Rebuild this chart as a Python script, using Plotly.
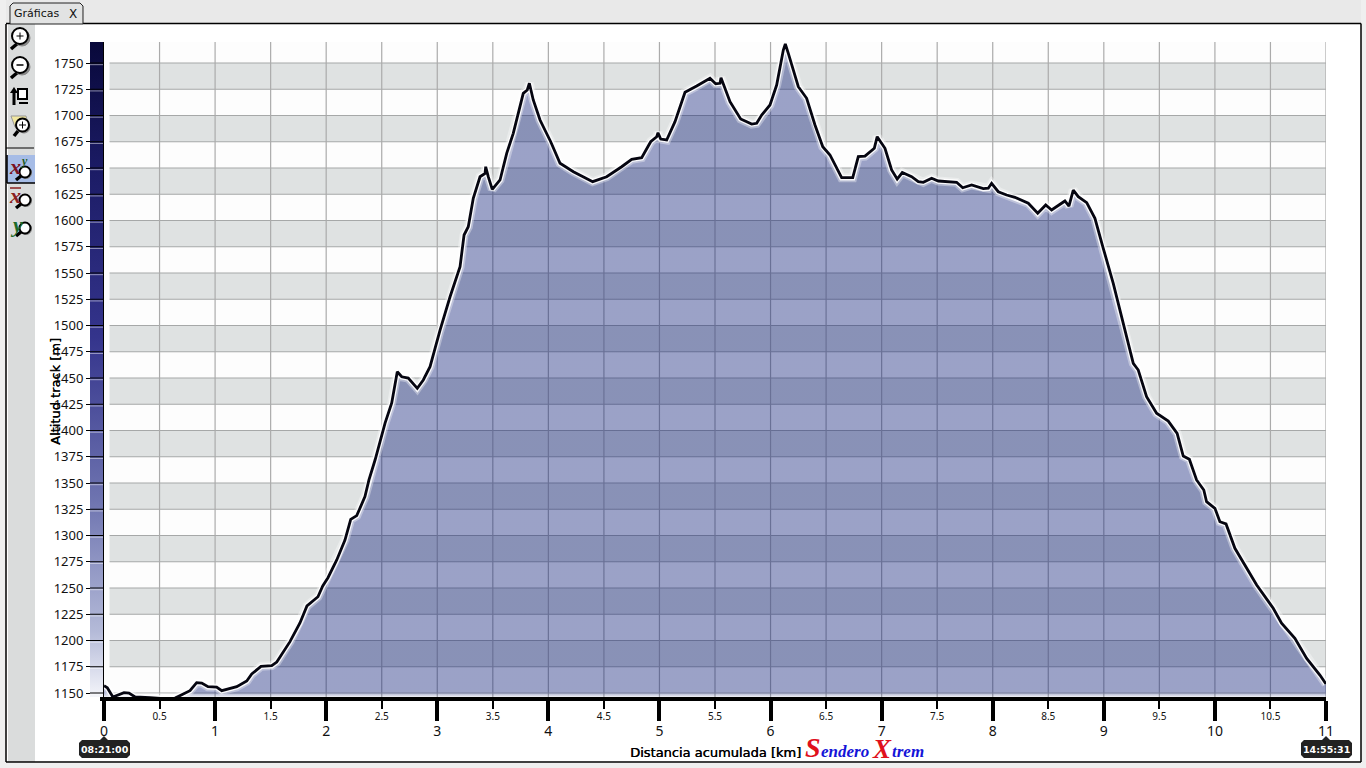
import plotly.graph_objects as go

W, H = 1366, 768

distance_km = [0, 0.03, 0.08, 0.18, 0.225, 0.28, 0.414, 0.55, 0.64, 0.774, 0.834, 0.88, 0.936, 1.014, 1.06, 1.195,
    1.285, 1.33, 1.413, 1.51, 1.555, 1.674, 1.764, 1.827, 1.926, 1.969, 2.016, 2.095, 2.169, 2.221, 2.275, 2.349,
    2.385, 2.44, 2.53, 2.59, 2.64, 2.68, 2.739, 2.82, 2.874, 2.935, 3.025, 3.115, 3.205, 3.241, 3.279, 3.324,
    3.385, 3.43, 3.436, 3.459, 3.495, 3.565, 3.625, 3.684, 3.774, 3.81, 3.829, 3.864, 3.925, 4.021, 4.105, 4.225,
    4.399, 4.525, 4.66, 4.75, 4.84, 4.921, 4.975, 4.987, 5.011, 5.065, 5.14, 5.23, 5.335, 5.455, 5.506, 5.545,
    5.554, 5.635, 5.731, 5.83, 5.875, 5.92, 5.995, 6.055, 6.115, 6.133, 6.16, 6.25, 6.325, 6.4, 6.47, 6.535,
    6.64, 6.74, 6.79, 6.85, 6.934, 6.96, 7.03, 7.09, 7.14, 7.186, 7.27, 7.33, 7.375, 7.45, 7.51, 7.675, 7.73,
    7.81, 7.915, 7.96, 7.99, 8.05, 8.125, 8.2, 8.32, 8.405, 8.477, 8.53, 8.65, 8.686, 8.725, 8.77, 8.846, 8.92,
    8.995, 9.085, 9.175, 9.265, 9.31, 9.385, 9.475, 9.58, 9.66, 9.715, 9.77, 9.835, 9.9, 9.925, 10.0, 10.045,
    10.1, 10.18, 10.376, 10.525, 10.6, 10.72, 10.826, 10.945, 11.0]
altitude_m = [1157, 1155, 1146.2, 1150.3, 1150, 1146.2, 1145.5, 1144.6, 1145.2, 1152.2, 1159.8, 1159.5, 1156, 1155.7,
    1152.2, 1156, 1161.4, 1168.1, 1175.4, 1176, 1179.5, 1198.9, 1216.7, 1232.9, 1241.7, 1251.9, 1259.8, 1276.7,
    1295.7, 1315.4, 1318.9, 1337, 1352.9, 1371.9, 1407.1, 1426.2, 1456, 1451.2, 1450, 1440.2, 1448.1, 1460.8,
    1495.7, 1527.4, 1556, 1586.2, 1594.1, 1621.1, 1641.7, 1644.9, 1651.2, 1641.7, 1629.7, 1638.6, 1664, 1683,
    1721.1, 1724.3, 1730.7, 1714.8, 1695.7, 1675, 1654.5, 1646.5, 1637, 1641.7, 1651.2, 1658.3, 1659.8, 1675,
    1679.8, 1683.6, 1677.6, 1676.7, 1694.1, 1722.1, 1728.1, 1735.4, 1730.3, 1730.7, 1736, 1713.1, 1696.7, 1691.9,
    1692.6, 1700.5, 1710, 1729, 1762.4, 1768.1, 1759.2, 1727.4, 1716.4, 1691, 1670.3, 1662.4, 1640.8, 1640.8,
    1660.8, 1661.4, 1668.8, 1679.8, 1668.8, 1648.1, 1639.5, 1645.7, 1641.7, 1637, 1636.4, 1640.2, 1637.6, 1636.4,
    1631.2, 1633.8, 1630.3, 1630.7, 1635.4, 1627.4, 1624.3, 1622.1, 1616.4, 1606.9, 1614.8, 1610, 1618.6, 1613.8,
    1629, 1622.7, 1617, 1602.1, 1573.5, 1540.2, 1502.1, 1464, 1457.6, 1432.2, 1416.4, 1409, 1397.3, 1375.7,
    1372.6, 1352.9, 1343.3, 1332.2, 1325.9, 1313.1, 1311, 1287.8, 1252.9, 1230.7, 1216.4, 1202.1, 1183, 1167.1,
    1158.6]

x_major_ticks = [0, 1, 2, 3, 4, 5, 6, 7, 8, 9, 10, 11]
x_minor_ticks = [0.5, 1.5, 2.5, 3.5, 4.5, 5.5, 6.5, 7.5, 8.5, 9.5, 10.5]
y_ticks = [1150, 1175, 1200, 1225, 1250, 1275, 1300, 1325, 1350, 1375, 1400, 1425, 1450, 1475, 1500, 1525, 1550,
           1575, 1600, 1625, 1650, 1675, 1700, 1725, 1750]
x_title = "Distancia acumulada [km]"
y_title = "Altitud track [m]"
start_time = "08:21:00"
end_time = "14:55:31"

X_RANGE = [0, 11]
Y_RANGE = [1146.2, 1770]
GRID_START = 0.05
HEAVY = "0.4px 0 0 #000"


def px(x):
    return x / W


def py(y):
    return 1 - y / H


def rect(x0, y0, x1, y1, fill, line=None, lw=0, layer="below"):
    return dict(type="rect", xref="paper", yref="paper", x0=px(x0), x1=px(x1), y0=py(y0), y1=py(y1),
                fillcolor=fill, line=dict(color=line or fill, width=lw), layer=layer)


def seg(x0, y0, x1, y1, color="#000", lw=1, layer="above"):
    return dict(type="line", xref="paper", yref="paper", x0=px(x0), x1=px(x1), y0=py(y0), y1=py(y1),
                line=dict(color=color, width=lw), layer=layer)


def circ(cx, cy, r, fill="#FFF", line="#000", lw=2):
    return dict(type="circle", xref="paper", yref="paper", x0=px(cx - r), x1=px(cx + r), y0=py(cy - r), y1=py(cy + r),
                fillcolor=fill, line=dict(color=line, width=lw), layer="above")


def poly(points, fill, line=None, lw=0, layer="above"):
    d = "M " + " L ".join(f"{px(a):.5f},{py(b):.5f}" for a, b in points) + " Z"
    return dict(type="path", xref="paper", yref="paper", path=d, fillcolor=fill,
                line=dict(color=line or fill, width=lw), layer=layer)


def label(x, y, text, size=12, color="#000", family="DejaVu Sans", xanchor="center", angle=0, shadow=None):
    f = dict(size=size, color=color, family=family)
    if shadow:
        f["shadow"] = shadow
    return dict(xref="paper", yref="paper", x=px(x), y=py(y), text=text, showarrow=False, xanchor=xanchor,
                yanchor="middle", textangle=angle, font=f, borderpad=0, borderwidth=0)


def time_tag(cx):
    x0, x1, y0, y1, r = cx - 25, cx + 26, 740, 758, 3
    return poly([(x0 + r, y0), (cx - 4, y0), (cx, y0 - 4), (cx + 4, y0), (x1 - r, y0), (x1, y0 + r), (x1, y1 - r),
                 (x1 - r, y1), (x0 + r, y1), (x0, y1 - r), (x0, y0 + r)], "#222222")


shapes = [
    rect(0, 0, W, 24, "#E9E9E9"),
    rect(0, 763, W, H, "#EFEFEF"),
    rect(0, 0, 6, H, "#EFEFEF"),
    rect(1361, 0, W, H, "#EFEFEF"),
    rect(8, 24, 35, 762, "#DADCDC"),
    seg(6, 24, 6, 762, lw=1.5),
    seg(6, 23.5, 10, 23.5, lw=1.5),
    seg(83, 23.5, 1361, 23.5, lw=1.5),
    seg(1361, 23.5, 1361, 762, lw=1.5),
    seg(6, 762, 1361, 762, lw=1.5),
    poly([(10, 24), (10, 6), (13, 3), (80, 3), (83, 6), (83, 24)], "#E2E3E3", "#222", 1),
    seg(6, 148, 34, 148, lw=1),
    rect(7, 155, 35, 183, "#A6BCE6", layer="above"),
    seg(7, 155, 7, 183, lw=1.5),
    seg(7, 183, 35, 183, lw=1.5),
]

# magnifier icons
for cy in (37, 66):
    shapes += [seg(18, cy + 6, 11, cy + 12, "#000", 3.5), circ(22, cy + 1, 8, "#888", "#888", 1),
               circ(20, cy - 1, 8)]
shapes += [seg(16.5, 36, 23.5, 36, lw=1), seg(20, 32.5, 20, 39.5, lw=1), seg(16.5, 65, 23.5, 65, lw=1.5)]
# layout icon
shapes += [
    poly([(14, 87), (18, 93), (10, 93)], "#000"), seg(14, 92, 14, 105, lw=3),
    rect(18, 89, 27, 99, "#FFF", "#000", 2, "above"), seg(19, 103, 28, 103, lw=2),
    # note + lens icon
    poly([(11, 116), (26, 116), (28, 124), (15, 127)], "#F1E7A0", "#999", 1),
    seg(18, 131, 14, 136, lw=3.5), circ(24, 127, 6, "#888", "#888", 1), circ(22.5, 125, 6.5),
    seg(19, 125, 26, 125, lw=1), seg(22.5, 121.5, 22.5, 128.5, lw=1),
]
# axis mode icons
for cy in (172, 200, 228):
    shapes += [seg(21, cy + 4, 16, cy + 8, lw=3.5), circ(26, cy + 1, 5.5, "#888", "#888", 1),
               circ(25, cy, 5.5)]
shapes.append(seg(10, 188, 21, 188, "#8A2020", 1.5))

# alternating bands, from the tick list
for low, high in zip(y_ticks[1:-1:2], y_ticks[2::2]):
    shapes.append(dict(type="rect", xref="x", yref="y", x0=GRID_START, x1=X_RANGE[1], y0=low, y1=high,
                       fillcolor="#DFE2E2", line=dict(width=0), layer="below"))
# notches on the colour bar
for v in y_ticks:
    shapes.append(dict(type="line", xref="x2", yref="y", x0=0, x1=1, y0=v, y1=v,
                       line=dict(color="#000", width=1), layer="above"))
    shapes.append(dict(type="line", xref="x2", yref="y", x0=0, x1=1, y0=v - 1.6, y1=v - 1.6,
                       line=dict(color="rgba(255,255,255,0.5)", width=1), layer="above"))
shapes += [time_tag(104), time_tag(1326)]

annotations = [
    label(37, 13.5, "Gráficas", 11, "#111", "DejaVu Sans"),
    label(73, 14, "X", 12, "#111", "DejaVu Sans"),
    label(55, 392, y_title, 13, angle=-90, shadow=HEAVY),
    label(715, 752, x_title, 13, shadow=HEAVY),
    label(104.5, 749.5, "<b>" + start_time + "</b>", 9.5, "#FFF", "DejaVu Sans"),
    label(1326.5, 749.5, "<b>" + end_time + "</b>", 9.5, "#FFF", "DejaVu Sans"),
    label(805, 747, "<b><i>S</i></b>", 28, "#E0101C", "Liberation Serif", "left"),
    label(821, 751, "<b><i>endero</i></b>", 17, "#1414D8", "Liberation Serif", "left"),
    label(872, 749, "<b><i>X</i></b>", 27, "#E0101C", "Liberation Serif", "left"),
    label(892, 751, "<b><i>trem</i></b>", 17, "#1414D8", "Liberation Serif", "left"),
    label(15, 166, "<b><i>x</i></b>", 22, "#7A1020", "Liberation Serif"),
    label(24, 161, "<b><i>y</i></b>", 12, "#1E5A20", "Liberation Serif"),
    label(15, 196, "<b><i>x</i></b>", 22, "#8A2020", "Liberation Serif"),
    label(16, 224, "<b><i>y</i></b>", 22, "#1E6A28", "Liberation Serif"),
]

hgrid_x, hgrid_y = [], []
for v in y_ticks:
    hgrid_x += [GRID_START, X_RANGE[1], None]
    hgrid_y += [v, v, None]
vgrid_x, vgrid_y = [], []
for v in sorted(x_major_ticks[1:] + x_minor_ticks):
    vgrid_x += [v, v, None]
    vgrid_y += [Y_RANGE[0], Y_RANGE[1], None]

fig = go.Figure()
fig.add_trace(go.Scatter(x=hgrid_x, y=hgrid_y, mode="lines", line=dict(color="#A6A8A8", width=1.2), hoverinfo="skip"))
fig.add_trace(go.Scatter(x=vgrid_x, y=vgrid_y, mode="lines", line=dict(color="#ABABAB", width=1.2), hoverinfo="skip"))

# baseline and filled profile
fig.add_trace(go.Scatter(x=[X_RANGE[0], X_RANGE[1]], y=[Y_RANGE[0], Y_RANGE[0]], mode="lines", line=dict(width=0),
                         hoverinfo="skip"))
fig.add_trace(go.Scatter(
    x=distance_km, y=altitude_m, mode="lines", line=dict(width=0), fill="tonexty", hoverinfo="skip",
    fillgradient=dict(type="vertical", start=Y_RANGE[0], stop=Y_RANGE[1],
                      colorscale=[[0, "rgba(8,25,118,0.06)"], [0.008, "rgba(8,25,118,0.40)"],
                                  [1, "rgba(8,25,118,0.40)"]])))
fig.add_trace(go.Scatter(x=distance_km, y=altitude_m, mode="lines", hoverinfo="skip",
                         line=dict(color="rgba(255,255,255,0.35)", width=9)))
fig.add_trace(go.Scatter(x=distance_km, y=altitude_m, mode="lines", hoverinfo="skip",
                         line=dict(color="rgba(255,255,255,0.9)", width=5.5)))
fig.add_trace(go.Scatter(x=distance_km, y=altitude_m, mode="lines", hoverinfo="skip",
                         line=dict(color="#050510", width=2.8)))

# colour bar beside the altitude axis
fig.add_trace(go.Scatter(
    x=[0, 1, 1, 0, 0], y=[Y_RANGE[0], Y_RANGE[0], Y_RANGE[1], Y_RANGE[1], Y_RANGE[0]], mode="lines", line=dict(width=0),
    fill="toself", xaxis="x2", yaxis="y", hoverinfo="skip",
    fillgradient=dict(type="vertical", start=Y_RANGE[0], stop=Y_RANGE[1],
                      colorscale=[[0, "#F4F5FA"], [0.1, "#B4BAD8"], [0.3, "#6E74B0"], [0.55, "#34348C"],
                                  [0.8, "#1C1C66"], [1, "#08083A"]])))

# half-kilometre ticks
fig.add_trace(go.Scatter(x=[x_minor_ticks[0]], y=[y_ticks[0]], mode="markers", marker=dict(opacity=0), xaxis="x3",
                         hoverinfo="skip"))

fig.update_layout(
    width=W, height=H, margin=dict(l=0, r=0, t=0, b=0, autoexpand=False), showlegend=False,
    paper_bgcolor="#FFFFFF", plot_bgcolor="#FDFDFD", hovermode=False,
    font=dict(family="Noto Sans", color="#000"),
    xaxis=dict(domain=[px(104), px(1326)], range=X_RANGE, anchor="y", showgrid=False, zeroline=False,
               showline=True, linecolor="#000", linewidth=3.5, ticks="outside", ticklen=20, tickwidth=4,
               tickcolor="#000", tickvals=x_major_ticks, ticktext=[str(v) for v in x_major_ticks],
               tickfont=dict(size=14, family="Noto Sans", color="#111"), ticklabelstandoff=-2, tickangle=0),
    xaxis2=dict(domain=[px(90), px(103)], range=[0, 1], anchor="y", visible=False),
    xaxis3=dict(overlaying="x", range=X_RANGE, anchor="y", side="bottom", showgrid=False, zeroline=False,
                showline=False, ticks="outside", ticklen=11, tickwidth=2, tickcolor="#000",
                tickvals=x_minor_ticks, ticktext=[str(v) for v in x_minor_ticks],
                tickfont=dict(size=10, family="Noto Sans", color="#111"), ticklabelstandoff=-1, tickangle=0),
    yaxis=dict(domain=[py(697), py(42)], range=Y_RANGE, anchor="x", showgrid=False, zeroline=False, showline=True,
               linecolor="#000", linewidth=4, ticks="outside", ticklen=14, tickwidth=1, tickcolor="#000",
               tickvals=y_ticks, ticktext=[str(v) for v in y_ticks],
               tickfont=dict(size=13, family="Noto Sans", color="#111")),
    shapes=shapes, annotations=annotations,
)

fig.write_html("out.html", config=dict(displayModeBar=False),
               post_script="document.body.style.margin='0';document.body.style.overflow='hidden';")
